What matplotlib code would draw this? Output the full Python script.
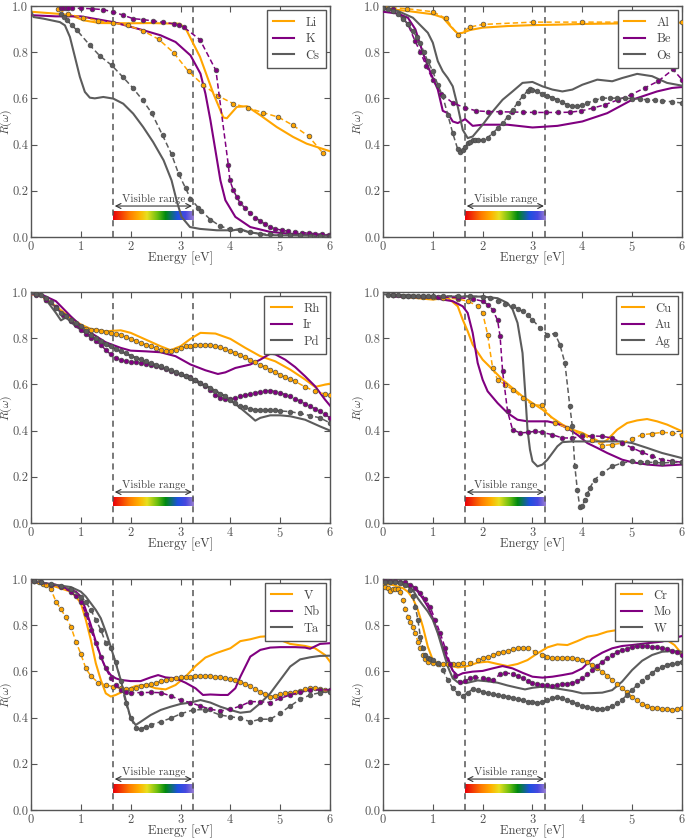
import matplotlib
matplotlib.use('Agg')
import matplotlib.pyplot as plt
from matplotlib.colors import LinearSegmentedColormap
import numpy as np

plt.rcParams.update({
    'font.family': 'serif',
    'font.serif': ['cmr10', 'DejaVu Serif'],
    'mathtext.fontset': 'cm',
    'axes.formatter.use_mathtext': True,
    'font.size': 9,
    'xtick.direction': 'in', 'ytick.direction': 'in',
    'xtick.top': True, 'ytick.right': True,
    'xtick.major.size': 4, 'ytick.major.size': 4,
    'xtick.minor.visible': False, 'ytick.minor.visible': False,
    'axes.edgecolor': '#555555', 'xtick.color': '#555555', 'ytick.color': '#555555',
    'text.color': '#444444', 'axes.labelcolor': '#444444', 'axes.linewidth': 1.0,
})

# ---------------- Panel 1: Li, K, Cs ----------------
Li_th_E = [0, 0.3, 0.6, 0.8, 1.05, 1.38, 2.0, 2.39, 2.99, 3.12, 3.39, 3.66, 3.86, 3.93, 4.13, 4.33, 4.6, 4.93, 5.26, 5.53, 6.0]
Li_th_R = [0.975, 0.97, 0.965, 0.96, 0.938, 0.926, 0.925, 0.926, 0.923, 0.895, 0.78, 0.62, 0.517, 0.514, 0.563, 0.566, 0.527, 0.476, 0.433, 0.404, 0.371]
Li_ex_E = [0.55, 0.75, 1.05, 1.35, 1.65, 1.94, 2.25, 2.56, 2.86, 3.16, 3.46, 3.76, 4.06, 4.36, 4.66, 4.96, 5.26, 5.57, 5.85]
Li_ex_R = [0.985, 0.964, 0.95, 0.935, 0.926, 0.916, 0.892, 0.856, 0.798, 0.717, 0.657, 0.61, 0.577, 0.558, 0.538, 0.519, 0.483, 0.436, 0.365]

K_th_E = [0, 0.5, 1.0, 1.65, 2.25, 2.6, 2.9, 3.2, 3.4, 3.5, 3.6, 3.7, 3.8, 3.9, 4.1, 4.4, 4.8, 5.2, 6.0]
K_th_R = [0.96, 0.955, 0.955, 0.93, 0.895, 0.873, 0.844, 0.786, 0.707, 0.62, 0.505, 0.375, 0.245, 0.159, 0.087, 0.043, 0.022, 0.014, 0.007]
K_ex_E = [0.6, 0.65, 0.7, 0.75, 0.82, 1.0, 1.22, 1.45, 1.65, 1.85, 2.05, 2.25, 2.45, 2.65, 2.86, 2.97, 3.06, 3.39, 3.71, 3.96, 3.99, 4.06, 4.13, 4.19, 4.29, 4.39, 4.5, 4.6, 4.7, 4.8, 4.9, 5.03, 5.16, 5.3, 5.43, 5.57, 5.7, 5.83, 5.97]
K_ex_R = [0.99, 0.99, 0.99, 0.99, 0.99, 0.99, 0.988, 0.984, 0.974, 0.96, 0.945, 0.941, 0.935, 0.929, 0.923, 0.916, 0.909, 0.854, 0.721, 0.31, 0.245, 0.202, 0.173, 0.149, 0.126, 0.104, 0.084, 0.069, 0.055, 0.043, 0.036, 0.029, 0.025, 0.022, 0.019, 0.017, 0.014, 0.012, 0.01]

Cs_th_E = [0, 0.05, 0.25, 0.58, 0.68, 0.78, 0.88, 0.98, 1.08, 1.18, 1.28, 1.45, 1.65, 1.85, 2.05, 2.25, 2.45, 2.66, 2.82, 2.92, 3.02, 3.19, 3.39, 3.73, 4.06, 4.19, 4.36, 4.73, 6.0]
Cs_th_R = [0.98, 0.952, 0.945, 0.93, 0.916, 0.866, 0.78, 0.693, 0.628, 0.603, 0.6, 0.606, 0.599, 0.577, 0.534, 0.476, 0.411, 0.332, 0.245, 0.159, 0.087, 0.043, 0.035, 0.029, 0.029, 0.035, 0.022, 0.008, 0.005]
Cs_ex_E = [0.6, 0.66, 0.72, 0.82, 0.92, 1.18, 1.38, 1.62, 1.84, 2.04, 2.24, 2.42, 2.64, 2.82, 2.96, 3.1, 3.2, 3.36, 3.42, 3.6, 3.79, 3.99, 4.19, 4.4, 4.6, 4.8, 5.0, 5.2, 5.4, 5.6, 5.8, 6.0]
Cs_ex_R = [0.967, 0.952, 0.938, 0.916, 0.895, 0.83, 0.784, 0.743, 0.693, 0.646, 0.592, 0.537, 0.44, 0.358, 0.274, 0.212, 0.166, 0.126, 0.113, 0.075, 0.048, 0.033, 0.029, 0.02, 0.014, 0.011, 0.009, 0.008, 0.007, 0.006, 0.005, 0.005]

# ---------------- Panel 2: Al, Be, Os ----------------
Al_th_E = [0, 0.5, 1.0, 1.2, 1.35, 1.5, 1.6, 1.75, 2.0, 2.5, 3.0, 3.5, 4.0, 5.0, 6.0]
Al_th_R = [0.99, 0.978, 0.964, 0.95, 0.913, 0.88, 0.884, 0.896, 0.906, 0.913, 0.917, 0.919, 0.922, 0.925, 0.928]
Al_ex_E = [0.0, 0.49, 1.0, 1.26, 1.5, 1.75, 2.0, 3.01, 4.0, 6.0]
Al_ex_R = [0.995, 0.988, 0.975, 0.946, 0.874, 0.909, 0.92, 0.93, 0.93, 0.93]

Be_th_E = [0, 0.3, 0.5, 0.65, 0.8, 0.9, 1.0, 1.1, 1.2, 1.3, 1.4, 1.5, 1.65, 1.8, 2.0, 2.5, 3.0, 3.5, 4.0, 4.5, 5.0, 5.5, 5.8, 6.0]
Be_th_R = [0.975, 0.967, 0.949, 0.899, 0.797, 0.739, 0.688, 0.638, 0.546, 0.536, 0.5, 0.493, 0.51, 0.481, 0.486, 0.486, 0.474, 0.481, 0.5, 0.536, 0.594, 0.63, 0.645, 0.649]
Be_ex_E = [0.0, 0.2, 0.4, 0.5, 0.64, 0.75, 0.87, 1.0, 1.17, 1.4, 1.64, 1.87, 2.1, 2.34, 2.58, 2.81, 3.04, 3.28, 3.51, 3.75, 3.98, 4.21, 4.45, 4.72, 4.98, 5.25, 5.52, 5.82, 6.0]
Be_ex_R = [0.99, 0.985, 0.95, 0.92, 0.85, 0.8, 0.74, 0.68, 0.62, 0.58, 0.56, 0.546, 0.543, 0.542, 0.541, 0.54, 0.539, 0.539, 0.539, 0.54, 0.546, 0.558, 0.572, 0.594, 0.616, 0.645, 0.674, 0.725, 0.681]

Os_th_E = [0, 0.3, 0.6, 0.9, 1.0, 1.1, 1.2, 1.3, 1.4, 1.5, 1.6, 1.7, 1.8, 2.0, 2.2, 2.4, 2.6, 2.8, 3.0, 3.2, 3.4, 3.6, 3.8, 4.0, 4.3, 4.6, 4.8, 5.1, 5.4, 5.7, 6.0]
Os_th_R = [0.99, 0.978, 0.949, 0.884, 0.841, 0.761, 0.717, 0.688, 0.652, 0.565, 0.464, 0.428, 0.435, 0.486, 0.543, 0.594, 0.63, 0.667, 0.671, 0.652, 0.638, 0.63, 0.638, 0.659, 0.681, 0.674, 0.688, 0.706, 0.696, 0.667, 0.655]
Os_ex_E = [0, 0.1, 0.2, 0.3, 0.4, 0.5, 0.6, 0.68, 0.75, 0.82, 0.9, 1.0, 1.1, 1.2, 1.3, 1.4, 1.5, 1.55, 1.6, 1.65,
           1.7, 1.75, 1.8, 1.85, 1.9, 2.0, 2.1, 2.2, 2.3, 2.4, 2.5, 2.6, 2.7, 2.8, 2.9, 2.95, 3.0, 3.1, 3.2, 3.3,
           3.4, 3.5, 3.6, 3.7, 3.8, 3.9, 4.0, 4.1, 4.25, 4.4, 4.55, 4.7, 4.85, 5.0, 5.15, 5.3, 5.45, 5.6, 5.8, 6.0]
Os_ex_R = [0.99, 0.985, 0.98, 0.964, 0.945, 0.92, 0.891, 0.865, 0.84, 0.8, 0.761, 0.717, 0.659, 0.609, 0.529, 0.449, 0.38, 0.368, 0.375, 0.391,
           0.405, 0.413, 0.42, 0.42, 0.418, 0.42, 0.43, 0.449, 0.47, 0.493, 0.52, 0.551, 0.58, 0.609, 0.632, 0.642, 0.638, 0.63, 0.618, 0.612,
           0.603, 0.594, 0.583, 0.572, 0.566, 0.565, 0.57, 0.58, 0.592, 0.601, 0.601, 0.601, 0.6, 0.599, 0.597, 0.594, 0.592, 0.59, 0.585, 0.58]

# ---------------- Panel 3: Rh, Ir, Pd ----------------
Rh_th_E = [0, 0.2, 0.5, 0.8, 1.0, 1.2, 1.5, 1.8, 2.0, 2.3, 2.6, 2.8, 3.0, 3.2, 3.4, 3.7, 4.0, 4.3, 4.6, 4.9, 5.2, 5.5, 5.7, 5.9, 6.0]
Rh_th_R = [0.99, 0.985, 0.938, 0.887, 0.859, 0.84, 0.83, 0.834, 0.823, 0.794, 0.765, 0.748, 0.765, 0.797, 0.823, 0.82, 0.797, 0.758, 0.722, 0.7, 0.664, 0.621, 0.589, 0.599, 0.603]
Rh_ex_E = [0.1, 0.3, 0.5, 0.7, 0.8, 0.9, 1.0, 1.1, 1.2, 1.3, 1.4, 1.5, 1.6, 1.7, 1.8, 1.9, 2.0, 2.1, 2.2, 2.3,
           2.4, 2.5, 2.6, 2.7, 2.8, 2.9, 3.0, 3.1, 3.2, 3.3, 3.4, 3.5, 3.6, 3.7, 3.8, 3.9, 4.0, 4.1, 4.2, 4.3,
           4.4, 4.5, 4.6, 4.7, 4.8, 4.9, 5.0, 5.1, 5.2, 5.3, 5.5, 5.7, 5.9, 6.0]
Rh_ex_R = [0.99, 0.965, 0.935, 0.895, 0.88, 0.862, 0.848, 0.84, 0.837, 0.834, 0.83, 0.827, 0.823, 0.82, 0.814, 0.805, 0.797, 0.789, 0.78, 0.772,
           0.764, 0.756, 0.748, 0.745, 0.745, 0.75, 0.758, 0.764, 0.768, 0.77, 0.772, 0.772, 0.77, 0.766, 0.76, 0.753, 0.745, 0.736, 0.727, 0.717,
           0.707, 0.697, 0.686, 0.675, 0.664, 0.653, 0.642, 0.632, 0.622, 0.613, 0.589, 0.57, 0.558, 0.555]

Ir_th_E = [0, 0.2, 0.5, 0.8, 1.0, 1.2, 1.5, 1.8, 2.0, 2.3, 2.6, 2.9, 3.2, 3.5, 3.75, 3.9, 4.1, 4.4, 4.6, 4.8, 4.9, 5.1, 5.3, 5.5, 5.7, 5.9, 6.0]
Ir_th_R = [0.99, 0.99, 0.96, 0.894, 0.854, 0.823, 0.782, 0.758, 0.746, 0.743, 0.739, 0.722, 0.686, 0.661, 0.645, 0.652, 0.671, 0.686, 0.707, 0.733, 0.73, 0.707, 0.675, 0.635, 0.592, 0.534, 0.508]
Ir_ex_E = [0.1, 0.3, 0.5, 0.65, 0.8, 0.9, 1.0, 1.1, 1.2, 1.3, 1.4, 1.5, 1.6, 1.7, 1.8, 1.9, 2.0, 2.1, 2.2, 2.3,
           2.4, 2.5, 2.6, 2.7, 2.8, 2.9, 3.0, 3.1, 3.2, 3.3, 3.4, 3.5, 3.6, 3.7, 3.8, 3.9, 4.0, 4.1, 4.2, 4.3,
           4.4, 4.5, 4.6, 4.7, 4.8, 4.9, 5.0, 5.1, 5.2, 5.3, 5.4, 5.5, 5.6, 5.7, 5.8, 5.9, 6.0]
Ir_ex_R = [0.989, 0.967, 0.935, 0.9, 0.873, 0.855, 0.837, 0.82, 0.801, 0.786, 0.772, 0.748, 0.73, 0.715, 0.706, 0.7, 0.697, 0.695, 0.693, 0.69,
           0.685, 0.681, 0.675, 0.665, 0.657, 0.65, 0.644, 0.638, 0.63, 0.62, 0.607, 0.592, 0.575, 0.556, 0.541, 0.537, 0.536, 0.541, 0.548, 0.553,
           0.558, 0.563, 0.567, 0.571, 0.573, 0.569, 0.563, 0.556, 0.548, 0.538, 0.527, 0.516, 0.505, 0.494, 0.483, 0.47, 0.455]

Pd_th_E = [0, 0.15, 0.3, 0.5, 0.6, 0.7, 0.9, 1.2, 1.5, 1.8, 2.1, 2.4, 2.7, 3.0, 3.3, 3.6, 3.9, 4.2, 4.4, 4.5, 4.6, 4.8, 5.0, 5.2, 5.5, 5.8, 6.0]
Pd_th_R = [0.99, 1.0, 0.967, 0.909, 0.877, 0.89, 0.851, 0.808, 0.772, 0.743, 0.715, 0.69, 0.667, 0.642, 0.613, 0.584, 0.548, 0.498, 0.462, 0.443, 0.455, 0.466, 0.466, 0.462, 0.447, 0.418, 0.4]
Pd_ex_E = [0.1, 0.2, 0.3, 0.4, 0.5, 0.6, 0.7, 0.8, 0.9, 1.0, 1.1, 1.2, 1.3, 1.4, 1.5, 1.6, 1.7, 1.8, 1.9, 2.0,
           2.1, 2.2, 2.3, 2.4, 2.5, 2.6, 2.7, 2.8, 2.9, 3.0, 3.1, 3.2, 3.3, 3.4, 3.5, 3.6, 3.7, 3.8, 3.9, 4.0,
           4.1, 4.2, 4.3, 4.4, 4.5, 4.6, 4.7, 4.8, 4.9, 5.0, 5.2, 5.4, 5.6, 5.8, 6.0]
Pd_ex_R = [0.99, 0.985, 0.974, 0.955, 0.93, 0.91, 0.895, 0.88, 0.865, 0.851, 0.833, 0.815, 0.802, 0.789, 0.776, 0.765, 0.754, 0.743, 0.734, 0.724,
           0.715, 0.708, 0.7, 0.693, 0.686, 0.678, 0.671, 0.663, 0.655, 0.646, 0.638, 0.629, 0.62, 0.608, 0.596, 0.584, 0.572, 0.56, 0.548, 0.533,
           0.519, 0.508, 0.5, 0.494, 0.49, 0.489, 0.488, 0.488, 0.487, 0.485, 0.482, 0.474, 0.465, 0.455, 0.433]

# ---------------- Panel 4: Cu, Au, Ag ----------------
Cu_th_E = [0.2, 0.6, 1.0, 1.3, 1.5, 1.6, 1.7, 1.8, 2.0, 2.2, 2.4, 2.6, 2.8, 3.0, 3.2, 3.4, 3.6, 3.8, 4.0, 4.2, 4.4, 4.5, 4.7, 4.9, 5.1, 5.3, 5.5, 5.7, 6.0]
Cu_th_R = [0.985, 0.975, 0.967, 0.975, 0.938, 0.88, 0.83, 0.772, 0.707, 0.664, 0.62, 0.584, 0.548, 0.519, 0.491, 0.455, 0.426, 0.404, 0.39, 0.368, 0.346, 0.36, 0.404, 0.433, 0.444, 0.45, 0.44, 0.426, 0.397]
Cu_ex_E = [0.2, 0.4, 0.6, 0.8, 1.0, 1.2, 1.5, 1.7, 1.9, 2.0, 2.1, 2.2, 2.3, 2.45, 2.6, 2.8, 3.0, 3.2, 3.45, 3.7, 4.0, 4.2, 4.4, 4.6, 4.8, 5.0, 5.2, 5.4, 5.6, 5.8, 6.0]
Cu_ex_R = [0.985, 0.983, 0.981, 0.979, 0.977, 0.975, 0.97, 0.96, 0.94, 0.909, 0.815, 0.671, 0.62, 0.599, 0.577, 0.541, 0.512, 0.509, 0.433, 0.411, 0.382, 0.36, 0.335, 0.339, 0.346, 0.365, 0.382, 0.387, 0.392, 0.39, 0.382]

Au_th_E = [0.2, 1.0, 1.2, 1.4, 1.6, 1.7, 1.8, 1.9, 2.0, 2.1, 2.3, 2.5, 2.7, 2.9, 3.1, 3.3, 3.5, 3.7, 3.9, 4.1, 4.3, 4.5, 4.8, 5.0, 5.3, 5.6, 6.0]
Au_th_R = [0.98, 0.975, 0.967, 0.96, 0.938, 0.909, 0.823, 0.693, 0.62, 0.57, 0.519, 0.476, 0.447, 0.44, 0.44, 0.44, 0.43, 0.411, 0.382, 0.346, 0.325, 0.303, 0.274, 0.263, 0.253, 0.248, 0.253]
Au_ex_E = [0.2, 0.5, 0.8, 1.1, 1.5, 1.8, 2.0, 2.1, 2.2, 2.3, 2.35, 2.4, 2.5, 2.6, 2.75, 2.9, 3.05, 3.2, 3.4, 3.6, 3.8, 4.0, 4.2, 4.4, 4.6, 4.8, 5.0, 5.2, 5.4, 5.6, 5.8, 6.0]
Au_ex_R = [0.985, 0.983, 0.981, 0.979, 0.975, 0.97, 0.96, 0.945, 0.924, 0.877, 0.808, 0.657, 0.483, 0.404, 0.39, 0.392, 0.397, 0.392, 0.382, 0.368, 0.368, 0.375, 0.377, 0.375, 0.368, 0.346, 0.325, 0.306, 0.289, 0.274, 0.268, 0.263]

Ag_th_E = [0, 1.0, 2.0, 2.3, 2.5, 2.6, 2.7, 2.8, 2.85, 2.9, 2.95, 3.0, 3.1, 3.2, 3.3, 3.4, 3.5, 3.6, 3.8, 4.0, 4.4, 4.8, 5.0, 5.3, 5.6, 6.0]
Ag_th_R = [0.99, 0.98, 0.98, 0.973, 0.952, 0.925, 0.866, 0.736, 0.577, 0.404, 0.317, 0.267, 0.245, 0.253, 0.274, 0.303, 0.332, 0.35, 0.353, 0.353, 0.353, 0.353, 0.346, 0.325, 0.303, 0.281]
Ag_ex_E = [0.1, 0.2, 0.3, 0.4, 0.5, 0.6, 0.7, 0.8, 0.9, 1.0, 1.2, 1.5, 1.75, 2.0, 2.15, 2.3, 2.45, 2.6, 2.7, 2.8,
           2.9, 3.0, 3.15, 3.3, 3.45, 3.55, 3.65, 3.75, 3.8, 3.85, 3.9, 3.95, 4.0, 4.05, 4.1, 4.15, 4.25, 4.4, 4.6, 4.8,
           5.0, 5.15, 5.3, 5.45, 5.6, 5.8, 6.0]
Ag_ex_R = [0.985, 0.985, 0.985, 0.984, 0.984, 0.984, 0.983, 0.983, 0.983, 0.982, 0.982, 0.984, 0.982, 0.98, 0.975, 0.96, 0.95, 0.938, 0.928, 0.916,
           0.9, 0.88, 0.844, 0.815, 0.82, 0.772, 0.693, 0.505, 0.418, 0.245, 0.144, 0.068, 0.072, 0.101, 0.125, 0.152, 0.188, 0.216, 0.245, 0.26,
           0.267, 0.265, 0.263, 0.262, 0.26, 0.262, 0.263]

# ---------------- Panel 5: V, Nb, Ta ----------------
V_th_E = [0, 0.5, 0.8, 0.9, 1.0, 1.1, 1.2, 1.3, 1.4, 1.5, 1.6, 1.7, 1.9, 2.1, 2.3, 2.5, 2.7, 2.9, 3.1, 3.3, 3.5, 3.7, 4.0, 4.2, 4.4, 4.6, 4.8, 5.0, 5.2, 5.5, 5.7, 5.9, 6.0]
V_th_R = [0.99, 0.966, 0.945, 0.924, 0.895, 0.823, 0.736, 0.635, 0.563, 0.505, 0.491, 0.498, 0.519, 0.537, 0.541, 0.527, 0.522, 0.541, 0.577, 0.623, 0.66, 0.678, 0.7, 0.731, 0.739, 0.75, 0.753, 0.736, 0.719, 0.71, 0.7, 0.671, 0.642]
V_ex_E = [0.05, 0.15, 0.25, 0.3, 0.4, 0.5, 0.6, 0.7, 0.8, 0.9, 1.0, 1.1, 1.2, 1.35, 1.5, 1.65, 1.8,
          1.9, 2.0, 2.1, 2.2, 2.3, 2.4, 2.5, 2.6, 2.7, 2.8, 2.9, 3.0, 3.1, 3.2, 3.3, 3.4, 3.5, 3.6, 3.7, 3.8, 3.9,
          4.0, 4.1, 4.2, 4.3, 4.4, 4.5, 4.6, 4.7, 4.8, 4.9, 5.0, 5.1, 5.2, 5.3, 5.4, 5.5, 5.6, 5.7, 5.8, 5.9, 6.0]
V_ex_R = [0.99, 0.985, 0.98, 0.975, 0.955, 0.902, 0.869, 0.834, 0.794, 0.729, 0.675, 0.613, 0.58, 0.551, 0.541, 0.534, 0.527,
          0.525, 0.522, 0.528, 0.537, 0.541, 0.545, 0.55, 0.558, 0.562, 0.566, 0.57, 0.574, 0.576, 0.577, 0.578, 0.579, 0.58, 0.579, 0.577, 0.574, 0.572,
          0.569, 0.563, 0.556, 0.547, 0.537, 0.525, 0.512, 0.5, 0.491, 0.495, 0.501, 0.505, 0.508, 0.512, 0.517, 0.522, 0.527, 0.527, 0.525, 0.52, 0.517]

Nb_th_E = [0, 0.5, 0.9, 1.0, 1.1, 1.2, 1.3, 1.4, 1.5, 1.6, 1.7, 1.8, 2.0, 2.2, 2.4, 2.55, 2.7, 2.9, 3.1, 3.3, 3.45, 3.6, 3.8, 3.95, 4.1, 4.2, 4.4, 4.6, 4.8, 5.0, 5.3, 5.5, 5.6, 5.8, 6.0]
Nb_th_R = [0.99, 0.975, 0.945, 0.924, 0.866, 0.801, 0.729, 0.664, 0.613, 0.584, 0.57, 0.563, 0.558, 0.558, 0.574, 0.584, 0.574, 0.57, 0.551, 0.527, 0.498, 0.5, 0.498, 0.498, 0.527, 0.577, 0.664, 0.693, 0.703, 0.705, 0.705, 0.703, 0.698, 0.719, 0.722]
Nb_ex_E = [0.05, 0.2, 0.4, 0.6, 0.8, 0.9, 1.0, 1.1, 1.2, 1.3, 1.4, 1.5, 1.6, 1.7, 1.8, 1.9, 2.0, 2.2, 2.4, 2.6, 2.8, 3.0, 3.2, 3.4, 3.6, 3.8, 4.0, 4.2, 4.4, 4.6, 4.8, 5.0, 5.2, 5.4, 5.6, 5.8, 6.0]
Nb_ex_R = [0.99, 0.985, 0.975, 0.965, 0.945, 0.925, 0.902, 0.85, 0.779, 0.722, 0.664, 0.613, 0.57, 0.541, 0.519, 0.51, 0.508, 0.508, 0.509, 0.508, 0.494, 0.476, 0.465, 0.45, 0.436, 0.429, 0.436, 0.45, 0.469, 0.469, 0.465, 0.483, 0.498, 0.509, 0.519, 0.52, 0.52]

Ta_th_E = [0, 0.5, 0.8, 1.0, 1.1, 1.2, 1.3, 1.4, 1.5, 1.6, 1.7, 1.8, 1.9, 2.0, 2.1, 2.2, 2.4, 2.6, 2.8, 3.0, 3.2, 3.4, 3.6, 3.8, 4.0, 4.2, 4.4, 4.6, 4.8, 5.0, 5.2, 5.4, 5.6, 5.8, 6.0]
Ta_th_R = [0.99, 0.974, 0.965, 0.945, 0.924, 0.895, 0.866, 0.83, 0.772, 0.707, 0.635, 0.563, 0.476, 0.397, 0.368, 0.382, 0.411, 0.433, 0.447, 0.459, 0.465, 0.476, 0.465, 0.447, 0.433, 0.421, 0.426, 0.462, 0.505, 0.563, 0.621, 0.652, 0.661, 0.667, 0.668]
Ta_ex_E = [0.05, 0.2, 0.4, 0.6, 0.8, 1.0, 1.1, 1.2, 1.3, 1.4, 1.5, 1.6, 1.7, 1.8, 1.9, 2.0, 2.1, 2.2, 2.3, 2.4, 2.6, 2.8, 3.0, 3.25, 3.5, 3.8, 4.0, 4.2, 4.4, 4.6, 4.8, 5.0, 5.2, 5.4, 5.6, 5.8, 6.0]
Ta_ex_R = [0.99, 0.985, 0.98, 0.97, 0.955, 0.924, 0.9, 0.866, 0.823, 0.78, 0.722, 0.7, 0.642, 0.56, 0.462, 0.4, 0.353, 0.349, 0.361, 0.368, 0.382, 0.397, 0.416, 0.433, 0.435, 0.411, 0.404, 0.397, 0.382, 0.393, 0.393, 0.419, 0.45, 0.479, 0.498, 0.508, 0.512]

# ---------------- Panel 6: Cr, Mo, W ----------------
Cr_th_E = [0, 0.2, 0.4, 0.5, 0.6, 0.7, 0.8, 0.9, 1.0, 1.1, 1.3, 1.5, 1.7, 1.9, 2.1, 2.3, 2.5, 2.7, 2.9, 3.1, 3.3, 3.5, 3.7, 3.9, 4.1, 4.3, 4.5, 4.7, 4.9, 5.1, 5.3, 5.5, 5.7, 5.85, 6.0]
Cr_th_R = [0.98, 0.974, 0.96, 0.945, 0.916, 0.866, 0.794, 0.707, 0.649, 0.635, 0.628, 0.617, 0.623, 0.638, 0.642, 0.632, 0.623, 0.632, 0.649, 0.678, 0.704, 0.717, 0.714, 0.731, 0.75, 0.758, 0.772, 0.779, 0.776, 0.765, 0.758, 0.75, 0.736, 0.714, 0.675]
Cr_ex_E = [0.05, 0.1, 0.15, 0.2, 0.25, 0.3, 0.35, 0.4, 0.45, 0.5, 0.55, 0.6, 0.65, 0.7, 0.75, 0.8, 0.85, 0.9,
           1.0, 1.1, 1.2, 1.3, 1.4, 1.5, 1.6, 1.75, 1.9, 2.0, 2.1, 2.2, 2.3, 2.4, 2.5, 2.6, 2.7, 2.8, 2.9, 3.05,
           3.2, 3.3, 3.4, 3.5, 3.6, 3.7, 3.8, 3.9, 4.0, 4.1, 4.2, 4.3, 4.4, 4.5, 4.6, 4.7, 4.8, 4.9, 5.0, 5.1,
           5.2, 5.3, 5.4, 5.5, 5.6, 5.7, 5.8, 5.9, 6.0]
Cr_ex_R = [0.967, 0.96, 0.95, 0.955, 0.958, 0.958, 0.945, 0.909, 0.87, 0.837, 0.815, 0.794, 0.765, 0.729, 0.7, 0.671, 0.652, 0.642,
           0.635, 0.633, 0.633, 0.633, 0.633, 0.634, 0.635, 0.637, 0.649, 0.657, 0.664, 0.671, 0.678, 0.685, 0.69, 0.695, 0.7, 0.702, 0.7, 0.686,
           0.671, 0.662, 0.657, 0.658, 0.66, 0.659, 0.657, 0.653, 0.649, 0.64, 0.627, 0.614, 0.599, 0.582, 0.563, 0.545, 0.527, 0.509, 0.491, 0.475,
           0.459, 0.45, 0.443, 0.44, 0.437, 0.436, 0.435, 0.438, 0.443]

Mo_th_E = [0, 0.3, 0.5, 0.6, 0.7, 0.8, 0.9, 1.0, 1.1, 1.2, 1.3, 1.4, 1.5, 1.6, 1.8, 2.0, 2.2, 2.4, 2.6, 2.8, 3.0, 3.2, 3.4, 3.6, 3.8, 4.0, 4.2, 4.4, 4.6, 4.8, 5.0, 5.3, 5.6, 5.8, 6.0]
Mo_th_R = [0.99, 0.987, 0.978, 0.967, 0.945, 0.916, 0.88, 0.83, 0.772, 0.707, 0.649, 0.603, 0.582, 0.592, 0.599, 0.602, 0.613, 0.623, 0.613, 0.594, 0.577, 0.573, 0.577, 0.584, 0.592, 0.613, 0.656, 0.681, 0.7, 0.71, 0.714, 0.722, 0.729, 0.743, 0.753]
Mo_ex_E = [0.05, 0.15, 0.25, 0.35, 0.45, 0.55, 0.65, 0.75, 0.85, 0.95, 1.05, 1.15, 1.25, 1.35, 1.45, 1.55, 1.65, 1.75, 1.85,
           2.0, 2.1, 2.2, 2.35, 2.45, 2.6,
           2.7, 2.8, 2.9, 3.0, 3.1, 3.2, 3.3, 3.4, 3.5, 3.6, 3.7, 3.8, 3.9, 4.0, 4.1, 4.2, 4.3, 4.4, 4.5, 4.6,
           4.7, 4.8, 4.9, 5.0, 5.1, 5.2, 5.3, 5.4, 5.5, 5.6, 5.7, 5.8, 5.9, 6.0]
Mo_ex_R = [0.99, 0.99, 0.99, 0.988, 0.985, 0.975, 0.962, 0.94, 0.912, 0.877, 0.822, 0.765, 0.7, 0.632, 0.578, 0.553, 0.558, 0.57, 0.574,
           0.57, 0.566, 0.563, 0.587, 0.594, 0.589,
           0.58, 0.57, 0.56, 0.551, 0.546, 0.541, 0.539, 0.538, 0.54, 0.544, 0.547, 0.551, 0.558, 0.57, 0.587, 0.606, 0.624, 0.642, 0.657, 0.671,
           0.683, 0.693, 0.699, 0.704, 0.708, 0.71, 0.709, 0.707, 0.704, 0.7, 0.696, 0.69, 0.682, 0.671]

W_th_E = [0, 0.3, 0.5, 0.6, 0.7, 0.8, 0.9, 1.0, 1.1, 1.2, 1.3, 1.4, 1.5, 1.7, 1.9, 2.1, 2.3, 2.5, 2.7, 2.85, 3.0, 3.2, 3.4, 3.6, 3.8, 4.0, 4.2, 4.4, 4.6, 4.8, 5.0, 5.2, 5.4, 5.6, 5.8, 6.0]
W_th_R = [0.99, 0.983, 0.967, 0.952, 0.916, 0.887, 0.859, 0.823, 0.765, 0.693, 0.621, 0.57, 0.553, 0.551, 0.561, 0.557, 0.551, 0.539, 0.529, 0.522, 0.529, 0.534, 0.529, 0.522, 0.515, 0.505, 0.506, 0.508, 0.519, 0.556, 0.606, 0.646, 0.671, 0.685, 0.688, 0.685]
W_ex_E = [0.05, 0.15, 0.25, 0.35, 0.45, 0.55, 0.6, 0.65, 0.7, 0.75, 0.8, 0.85, 0.9, 0.95, 1.0, 1.1, 1.2, 1.3, 1.4, 1.5, 1.6,
          1.7, 1.8, 1.9, 2.0, 2.1, 2.2, 2.3, 2.4, 2.5, 2.6, 2.7, 2.8, 2.9, 3.0, 3.1, 3.2, 3.3, 3.4, 3.5, 3.6,
          3.7, 3.8, 3.9, 4.0, 4.1, 4.2, 4.3, 4.4, 4.5, 4.6, 4.7, 4.8, 4.9, 5.0, 5.1, 5.2, 5.3, 5.4, 5.5, 5.6,
          5.7, 5.8, 5.9, 6.0]
W_ex_R = [0.985, 0.985, 0.985, 0.983, 0.975, 0.952, 0.925, 0.88, 0.823, 0.75, 0.7, 0.671, 0.656, 0.652, 0.649, 0.635, 0.606, 0.563, 0.527, 0.505, 0.494,
          0.508, 0.523, 0.519, 0.512, 0.505, 0.501, 0.498, 0.494, 0.491, 0.486, 0.48, 0.474, 0.469, 0.466, 0.465, 0.468, 0.476, 0.486, 0.487, 0.483,
          0.476, 0.467, 0.459, 0.452, 0.445, 0.44, 0.437, 0.438, 0.441, 0.45, 0.462, 0.478, 0.498, 0.52, 0.541, 0.56, 0.577, 0.594, 0.609, 0.619,
          0.627, 0.634, 0.638, 0.642]

# ---------------- Figure ----------------
colors = ['#FFA500', '#800080', '#5c5c5c']
vis_lo, vis_hi = 1.65, 3.26

panels = [
    ([0.0453, 0.7172, 0.4365, 0.2757], [('Li', Li_th_E, Li_th_R, Li_ex_E, Li_ex_R),
                                        ('K', K_th_E, K_th_R, K_ex_E, K_ex_R),
                                        ('Cs', Cs_th_E, Cs_th_R, Cs_ex_E, Cs_ex_R)]),
    ([0.5591, 0.7172, 0.4365, 0.2757], [('Al', Al_th_E, Al_th_R, Al_ex_E, Al_ex_R),
                                        ('Be', Be_th_E, Be_th_R, Be_ex_E, Be_ex_R),
                                        ('Os', Os_th_E, Os_th_R, Os_ex_E, Os_ex_R)]),
    ([0.0453, 0.3759, 0.4365, 0.2757], [('Rh', Rh_th_E, Rh_th_R, Rh_ex_E, Rh_ex_R),
                                        ('Ir', Ir_th_E, Ir_th_R, Ir_ex_E, Ir_ex_R),
                                        ('Pd', Pd_th_E, Pd_th_R, Pd_ex_E, Pd_ex_R)]),
    ([0.5591, 0.3759, 0.4365, 0.2757], [('Cu', Cu_th_E, Cu_th_R, Cu_ex_E, Cu_ex_R),
                                        ('Au', Au_th_E, Au_th_R, Au_ex_E, Au_ex_R),
                                        ('Ag', Ag_th_E, Ag_th_R, Ag_ex_E, Ag_ex_R)]),
    ([0.0453, 0.0334, 0.4365, 0.2757], [('V', V_th_E, V_th_R, V_ex_E, V_ex_R),
                                        ('Nb', Nb_th_E, Nb_th_R, Nb_ex_E, Nb_ex_R),
                                        ('Ta', Ta_th_E, Ta_th_R, Ta_ex_E, Ta_ex_R)]),
    ([0.5591, 0.0334, 0.4365, 0.2757], [('Cr', Cr_th_E, Cr_th_R, Cr_ex_E, Cr_ex_R),
                                        ('Mo', Mo_th_E, Mo_th_R, Mo_ex_E, Mo_ex_R),
                                        ('W', W_th_E, W_th_R, W_ex_E, W_ex_R)]),
]

spec_cmap = LinearSegmentedColormap.from_list('spec', [
    (0.0, '#e8000b'), (0.2, '#ff7a00'), (0.32, '#ffb000'), (0.42, '#e8e020'),
    (0.55, '#6abf10'), (0.65, '#008a10'), (0.8, '#1e50e0'), (0.9, '#4848e0'), (1.0, '#9a80d0')])
gradient = np.linspace(0, 1, 256).reshape(1, -1)

fig = plt.figure(figsize=(6.85, 8.38), dpi=100)
for pos, series in panels:
    ax = fig.add_axes(pos)
    ax.imshow(gradient, extent=[vis_lo, vis_hi, 0.075, 0.11], aspect='auto', cmap=spec_cmap, zorder=1)
    for xv in (vis_lo, vis_hi):
        ax.axvline(xv, color='#555555', lw=1.1, ls=(0, (4, 3)), zorder=2)
    ax.annotate('', xy=(vis_hi - 0.03, 0.134), xytext=(vis_lo + 0.03, 0.134),
                arrowprops=dict(arrowstyle='<->', color='#333333', lw=0.8, shrinkA=0, shrinkB=0), zorder=3)
    ax.text((vis_lo + vis_hi) / 2, 0.153, 'Visible range', ha='center', va='baseline', fontsize=8, color='#444444')
    handles = []
    for (name, eth, rth, eex, rex), c in zip(series, colors):
        h, = ax.plot(eth, rth, color=c, lw=1.5, label=name, zorder=4)
        handles.append(h)
    for (name, eth, rth, eex, rex), c in zip(series, colors):
        ax.plot(eex, rex, color=c, lw=1.1, ls=(0, (3.5, 2)), marker='o', ms=3.4,
                mfc=c, mec='#4a4a4a', mew=0.5, zorder=5)
    ax.set_xlim(0, 6)
    ax.set_ylim(0, 1)
    ax.set_xticks([0, 1, 2, 3, 4, 5, 6])
    ax.set_yticks([0.0, 0.2, 0.4, 0.6, 0.8, 1.0])
    ax.set_yticklabels(['0.0', '0.2', '0.4', '0.6', '0.8', '1.0'])
    ax.tick_params(labelsize=9, pad=2)
    ax.set_xlabel('Energy [eV]', fontsize=9)
    ax.xaxis.set_label_coords(0.5, -0.062)
    ax.set_ylabel(r'$R(\omega)$', fontsize=8.5)
    ax.yaxis.set_label_coords(-0.056, 0.5)
    leg = ax.legend(handles=handles, loc='upper right', fontsize=9, frameon=True, fancybox=False,
                    edgecolor='#555555', framealpha=1, handlelength=1.7, handletextpad=0.9,
                    labelspacing=0.35, borderpad=0.5, borderaxespad=0.35)
    leg.get_frame().set_linewidth(1.0)
    for t in leg.get_texts():
        t.set_color('#444444')

fig.savefig('out.png', dpi=100)
